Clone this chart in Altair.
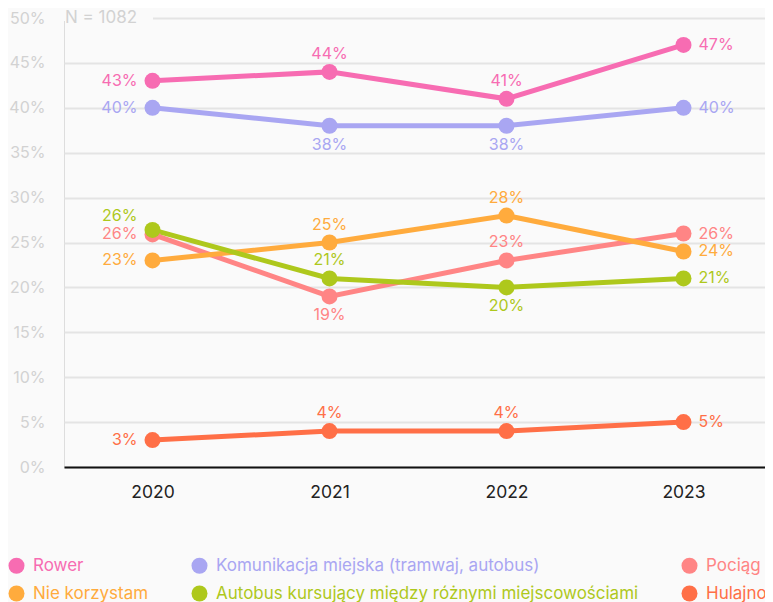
import altair as alt
import pandas as pd

years = ["2020", "2021", "2022", "2023"]
series = [
    "Rower",
    "Komunikacja miejska (tramwaj, autobus)",
    "Pociąg",
    "Nie korzystam",
    "Autobus kursujący między różnymi miejscowościami",
    "Hulajnoga",
]
colors = ["#f76cb2", "#a9a6f2", "#ff8585", "#ffab3d", "#aec81c", "#ff6f47"]

rower = [43, 44, 41, 47]
komunikacja = [40, 38, 38, 40]
pociag = [25.9, 19, 23, 26]
nie_korzystam = [23, 25, 28, 24]
autobus = [26.4, 21, 20, 21]
hulajnoga = [3, 4, 4, 5]

y_ticks = [0, 5, 10, 15, 20, 25, 30, 35, 40, 45, 50]
note = "N = 1082"

# label placement for each series/year (left, right, above, below, leftup)
placement = [
    ["left", "above", "above", "right"],
    ["left", "below", "below", "right"],
    ["left", "below", "above", "right"],
    ["left", "above", "above", "right"],
    ["leftup", "above", "below", "right"],
    ["left", "above", "above", "right"],
]

values = [rower, komunikacja, pociag, nie_korzystam, autobus, hulajnoga]
rows = []
for s, vals, pl in zip(series, values, placement):
    for y, v, p in zip(years, vals, pl):
        rows.append({"series": s, "year": y, "value": v,
                     "label": f"{round(v)}%", "pos": p})
df = pd.DataFrame(rows)

BG = "#fafafa"
FONT = "Inter"

color_scale = alt.Scale(domain=series, range=colors)
legend = alt.Legend(
    orient="none", legendX=-56, legendY=539, columns=3, direction="horizontal",
    title=None,
    symbolType="circle", symbolSize=256, symbolStrokeWidth=0, symbolOpacity=1,
    labelFontSize=17, labelFont=FONT, labelLimit=700, columnPadding=42,
    rowPadding=10, labelOffset=8,
    labelColor={"expr": "scale('color', datum.value)"},
)

x_enc = alt.X("year:N", sort=years, title=None,
              scale=alt.Scale(type="point", padding=0.5, range=[0, 708]),
              axis=alt.Axis(domain=True, domainColor="#111111", domainWidth=2,
                            ticks=False, grid=False, labelAngle=0,
                            labelFontSize=17.5, labelColor="#222222",
                            labelPadding=16, labelFont=FONT))
y_enc = alt.Y("value:Q", title=None,
              scale=alt.Scale(domain=[0, 50], nice=False),
              axis=alt.Axis(values=y_ticks, labelExpr="datum.value + '%'",
                            domain=False, ticks=False, grid=True,
                            gridColor="#e4e4e4", gridWidth=2,
                            labelFontSize=16, labelColor="#d2d2d2",
                            labelPadding=19, labelFont=FONT))

base = alt.Chart(df).encode(x=x_enc, y=y_enc)

lines = base.mark_line(strokeWidth=5).encode(
    color=alt.Color("series:N", scale=color_scale, legend=legend))
points = base.mark_circle(size=256, opacity=1).encode(
    color=alt.Color("series:N", scale=color_scale, legend=legend))

offsets = {
    "left": dict(align="right", baseline="middle", dx=-15, dy=0),
    "right": dict(align="left", baseline="middle", dx=15, dy=0),
    "above": dict(align="center", baseline="middle", dx=0, dy=-18),
    "below": dict(align="center", baseline="middle", dx=0, dy=19),
    "leftup": dict(align="right", baseline="middle", dx=-15, dy=-14),
}
texts = []
for p, kw in offsets.items():
    texts.append(
        base.transform_filter(alt.datum.pos == p)
        .mark_text(fontSize=16, font=FONT, **kw)
        .encode(text="label:N",
                color=alt.Color("series:N", scale=color_scale, legend=legend))
    )

mask = alt.Chart(pd.DataFrame({"t": [note]})).mark_rect(color=BG).encode(
    x=alt.value(0), x2=alt.value(89), y=alt.value(-3), y2=alt.value(3))
note_text = alt.Chart(pd.DataFrame({"t": [note]})).mark_text(
    align="left", baseline="middle", fontSize=17, font=FONT, color="#d2d2d2"
).encode(x=alt.value(1), y=alt.value(0), text="t:N")

chart = alt.layer(lines, points, *texts, mask, note_text).properties(
    width=701, height=449, background=BG,
    autosize=alt.AutoSizeParams(type="none"),
    padding={"left": 56, "top": 10, "right": 0, "bottom": 135},
).configure_view(stroke=None).configure(font=FONT)

chart.save("out.html", embed_options={"renderer": "svg", "actions": False})
